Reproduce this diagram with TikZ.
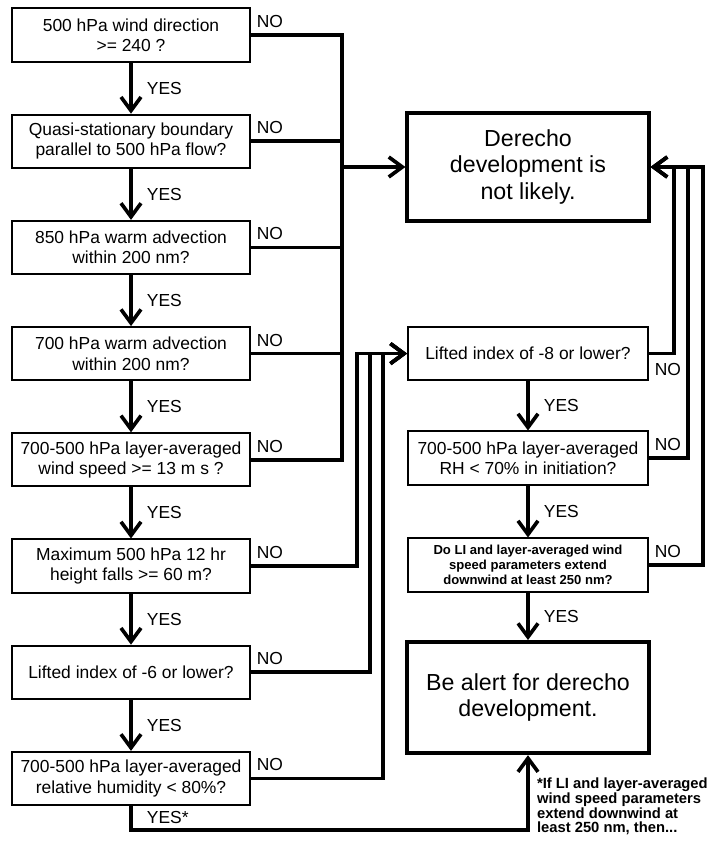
\documentclass[tikz,border=0pt]{standalone}
\usepackage{fontspec}
\setmainfont{Liberation Sans}
\usetikzlibrary{arrows.meta, positioning}

\begin{document}
\begin{tikzpicture}[
  >={Straight Barb[length=3.4mm, width=5mm]},
  qbox/.style={draw, line width=1.3pt, minimum width=5.95cm, minimum height=1.33cm,
    align=center, inner sep=2pt, font=\fontsize{12.4}{14.5}\selectfont},
  rbox/.style={qbox, minimum width=6cm},
  bigbox/.style={draw, line width=2.8pt, minimum width=6.03cm, minimum height=2.7cm,
    align=center, font=\fontsize{16.5}{18.6}\selectfont},
  flow/.style={line width=2.6pt},
  ans/.style={font=\fontsize{12.4}{14.5}\selectfont, inner sep=1pt},
]

\useasboundingbox (0,0) rectangle (17.8,-21.075);

% --- Left column ---
\node[qbox] (q1) at (3.275, -0.875) {500 hPa wind direction\\>= 240 ?};
\node[qbox] (q2) at (3.275, -3.53) {Quasi-stationary boundary\\parallel to 500 hPa flow?};
\node[qbox] (q3) at (3.275, -6.185) {850 hPa warm advection\\within 200 nm?};
\node[qbox] (q4) at (3.275, -8.84) {700 hPa warm advection\\within 200 nm?};
\node[qbox] (q5) at (3.275, -11.495) {700-500 hPa layer-averaged\\wind speed >= 13 m s ?};
\node[qbox] (q6) at (3.275, -14.15) {Maximum 500 hPa 12 hr\\height falls >= 60 m?};
\node[qbox] (q7) at (3.275, -16.805) {Lifted index of -6 or lower?};
\node[qbox] (q8) at (3.275, -19.46) {700-500 hPa layer-averaged\\relative humidity < 80\%?};

% --- Right column ---
\node[bigbox] (nolikely) at (13.2, -4.175) {Derecho\\development is\\not likely.};
\node[rbox] (r1) at (13.2, -8.84) {Lifted index of -8 or lower?};
\node[rbox] (r2) at (13.2, -11.45) {700-500 hPa layer-averaged\\RH < 70\% in initiation?};
\node[rbox, font=\bfseries\fontsize{9.3}{10.7}\selectfont] (r3) at (13.2, -14.125)
  {Do LI and layer-averaged wind\\speed parameters extend\\downwind at least 250 nm?};
\node[bigbox, minimum width=6.05cm, minimum height=2.78cm] (alert) at (13.2, -17.44)
  {Be alert for derecho\\development.};

% --- Footnote ---
\node[anchor=north west, align=left, inner sep=0pt,
  font=\bfseries\fontsize{10.5}{10.4}\selectfont] (note) at (13.42, -19.45)
  {*If LI and layer-averaged\\wind speed parameters\\extend downwind at\\least 250 nm, then...};

% --- Junction points ---
\coordinate (jl) at (8.55, -4.175);
\coordinate (jm1) at (8.925, -8.84);
\coordinate (jm2) at (9.25, -8.84);
\coordinate (jm3) at (9.575, -8.84);
\coordinate (jr1) at (16.85, -4.175);
\coordinate (jr2) at (17.2, -4.175);
\coordinate (jr3) at (17.575, -4.175);
\coordinate (yb) at (3.275, -20.75);

% --- YES arrows ---
\draw[flow, ->] (q1) -- node[ans, right=9pt] {YES} (q2);
\draw[flow, ->] (q2) -- node[ans, right=9pt] {YES} (q3);
\draw[flow, ->] (q3) -- node[ans, right=9pt] {YES} (q4);
\draw[flow, ->] (q4) -- node[ans, right=9pt] {YES} (q5);
\draw[flow, ->] (q5) -- node[ans, right=9pt] {YES} (q6);
\draw[flow, ->] (q6) -- node[ans, right=9pt] {YES} (q7);
\draw[flow, ->] (q7) -- node[ans, right=9pt] {YES} (q8);
\draw[flow, ->] (r1) -- node[ans, right=9pt] {YES} (r2);
\draw[flow, ->] (r2) -- node[ans, right=9pt] {YES} (r3);
\draw[flow, ->] (r3) -- node[ans, right=9pt] {YES} (alert);
\draw[flow, ->] (q8.south) -- node[ans, right=9pt] {YES*} (yb) -| (alert.south);

% --- NO branches, upper left ---
\draw[flow] (q1.east) -| (q5.east -| jl) -- (q5.east);
\draw[flow] (q2.east) -- (q2.east -| jl);
\draw[flow] (q3.east) -- (q3.east -| jl);
\draw[flow] (q4.east) -- (q4.east -| jl);
\draw[flow, ->] (jl) -- (nolikely.west);

% --- NO branches, lower left ---
\draw[flow, ->] (q6.east) -| (jm1) -- (r1.west);
\draw[flow, ->] (q7.east) -| (jm2) -- (r1.west);
\draw[flow, ->] (q8.east) -| (jm3) -- (r1.west);

% --- NO branches, right ---
\draw[flow, ->] (r1.east) -| (jr1) -- (nolikely.east);
\draw[flow, ->] (r2.east) -| (jr2) -- (nolikely.east);
\draw[flow, ->] (r3.east) -| (jr3) -- (nolikely.east);

% --- NO labels ---
\foreach \q in {q1, q2, q3, q4, q5, q6, q7, q8, r2, r3}
  \node[ans, above right=4pt and 3pt of \q.east] (no-\q) {NO};
\node[ans, below right=6pt and 3pt of r1.east] (no-r1) {NO};

\end{tikzpicture}
\end{document}
